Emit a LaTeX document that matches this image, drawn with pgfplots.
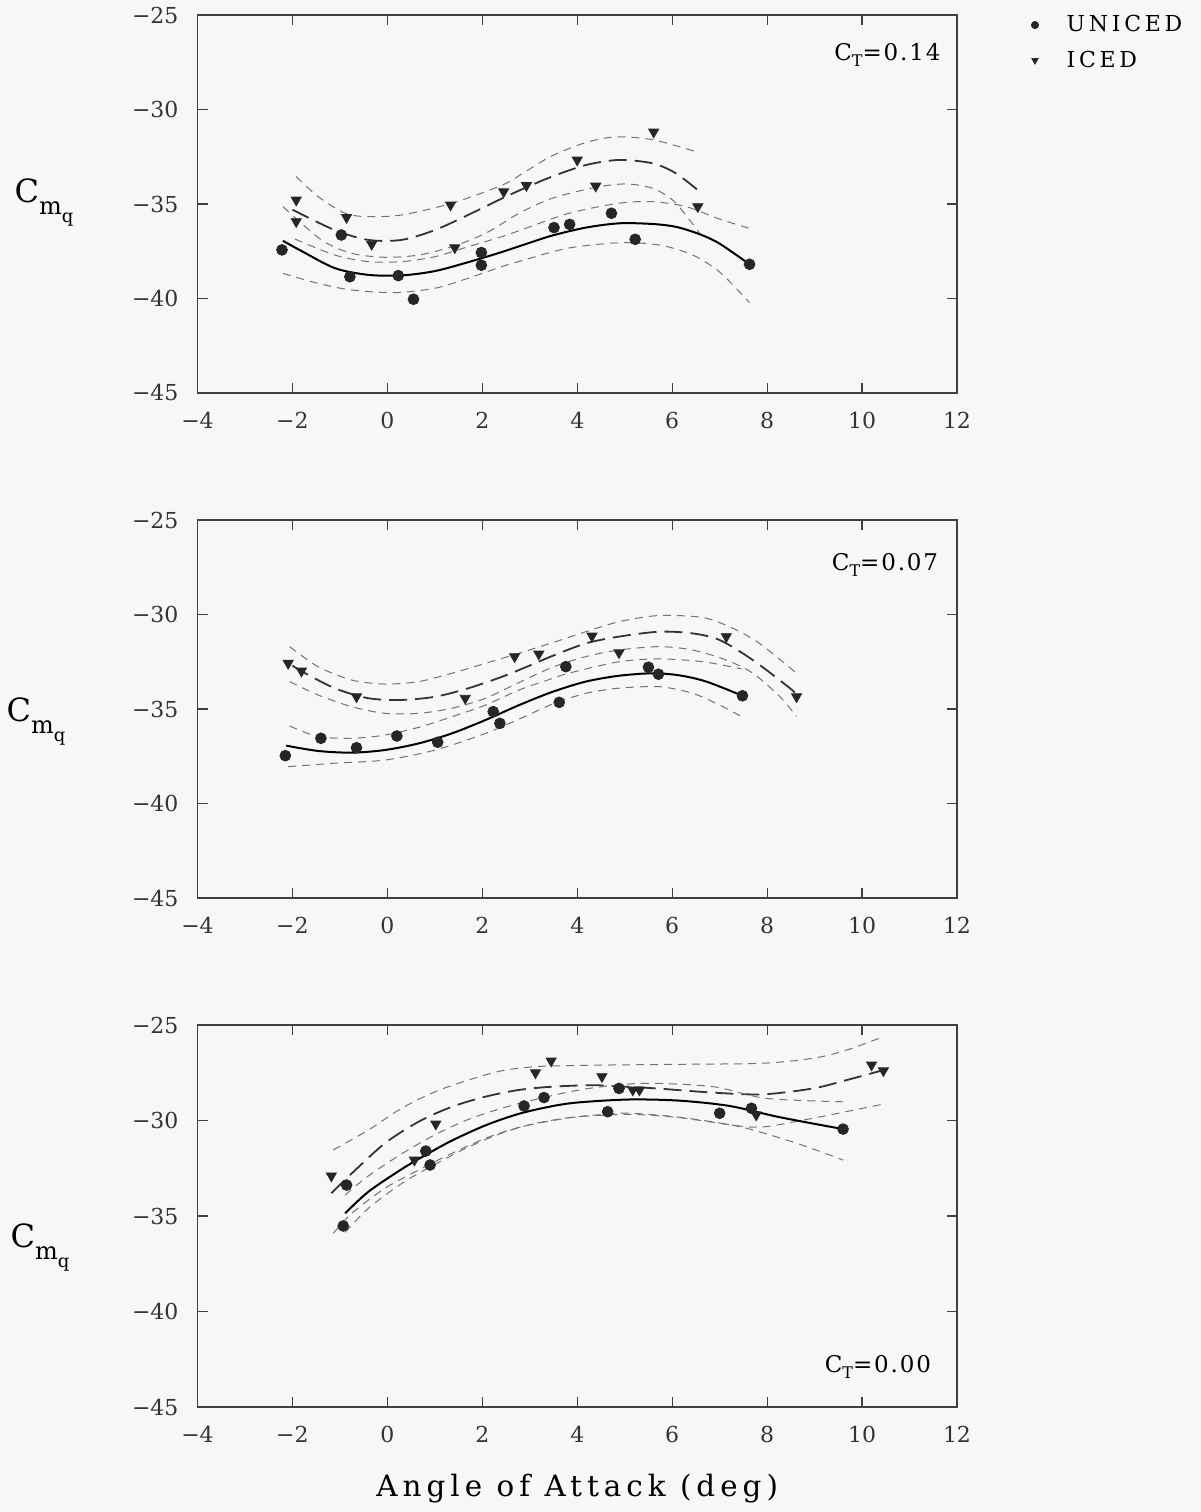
\documentclass[border=0pt]{standalone}
\usepackage{fontspec}
\setmainfont{DejaVu Serif}
\newfontfamily\wide{DejaVu Serif}[LetterSpace=17]
\newfontfamily\semiwide{DejaVu Serif}[LetterSpace=8]
\usepackage{pgfplots}
\pgfplotsset{compat=1.18}
\pgfplotsset{
  panel/.style={
    scale only axis, width=379.75pt,
    xmin=-4, xmax=12, ymin=-45, ymax=-25,
    xtick={-4,-2,...,12}, ytick={-45,-40,...,-25},
    xticklabels={−4,−2,0,2,4,6,8,10,12},
    yticklabels={−45,−40,−35,−30,−25},
    tick align=inside, major tick length=5pt,
    tick style={black!75, line width=0.6pt},
    axis line style={black!75, line width=0.7pt},
    ticklabel style={font=\fontsize{11}{11}\selectfont, text=black!80},
    xticklabel style={yshift=-6pt},
    yticklabel style={xshift=-6pt},
    clip=false, anchor=south west,
  },
  ufit/.style={black, line width=1.0pt, smooth, no marks, forget plot},
  ifit/.style={black!80, line width=0.9pt, dash pattern=on 9pt off 4pt, smooth, no marks, forget plot},
  band/.style={black!55, line width=0.5pt, dash pattern=on 4pt off 3pt, smooth, no marks, forget plot},
  umark/.style={only marks, mark=*, mark size=2.7pt, black!85},
  imark/.style={only marks, mark=triangle*, mark size=2.9pt, mark options={rotate=180}, black!85},
}
\newcommand{\cmq}{{\wide\fontsize{16}{16}\selectfont C}\raisebox{-6pt}{\wide\fontsize{12}{12}\selectfont m\raisebox{-4pt}{\fontsize{9}{9}\selectfont q}}}
\newcommand{\ct}[1]{{\semiwide\fontsize{11.5}{11.5}\selectfont C\raisebox{-3pt}{\fontsize{8}{8}\selectfont T}=#1}}
\begin{document}
\begin{tikzpicture}
\fill[black!3] (0,0) rectangle (600.5pt,756pt);
\path[use as bounding box] (0,0) rectangle (600.5pt,756pt);

% ---------------- top panel: CT = 0.14
\begin{axis}[panel, height=189pt, at={(98.75pt,559.5pt)},
  legend style={at={(rel axis cs:1,1)}, anchor=north west, xshift=34pt, yshift=4pt,
    draw=none, fill=none, font=\wide\fontsize{11}{11}\selectfont, row sep=4pt,
    /tikz/every odd column/.append style={column sep=12pt}},
  legend cell align=left,
  legend image code/.code={\draw[#1, mark size=1.8pt] plot coordinates {(0cm,0cm)};}]
\addplot[band] coordinates {(-1.92,-33.55) (-1.46,-34.61) (-0.89,-35.49) (-0.4,-35.67) (0.3,-35.58) (1.36,-34.96) (2.42,-34.0) (2.9,-33.3) (3.47,-32.45) (4.18,-31.75) (4.81,-31.45) (5.59,-31.6) (6.5,-32.23)};
\addplot[ifit] coordinates {(-2.0,-35.3) (-1.11,-36.38) (-0.4,-36.9) (0.3,-36.9) (1.0,-36.38) (1.7,-35.58) (2.42,-34.7) (2.9,-34.15) (3.47,-33.55) (4.18,-32.94) (4.88,-32.67) (5.59,-32.85) (6.08,-33.38) (6.58,-34.35)};
\addplot[band] coordinates {(-2.2,-35.14) (-1.39,-36.9) (-0.75,-37.61) (-0.05,-37.82) (0.66,-37.7) (1.36,-37.26) (2.07,-36.55) (2.77,-35.5) (3.47,-34.7) (4.39,-34.12) (5.03,-33.94) (5.59,-34.17) (6.01,-34.79) (6.29,-35.6) (6.58,-36.55)};
\addplot[band] coordinates {(-1.95,-36.85) (-1.11,-37.7) (-0.4,-38.05) (0.3,-38.05) (1.0,-37.79) (1.7,-37.26) (2.42,-36.72) (2.9,-36.3) (3.83,-35.49) (4.88,-34.96) (5.59,-34.88) (6.29,-35.14) (7.0,-35.8) (7.63,-36.29)};
\addplot[ufit] coordinates {(-2.2,-36.95) (-1.8,-37.5) (-1.1,-38.4) (-0.4,-38.75) (0.3,-38.78) (1.0,-38.55) (1.7,-38.08) (2.4,-37.55) (3.0,-37.05) (3.5,-36.65) (4.2,-36.24) (4.9,-36.02) (5.6,-36.06) (6.1,-36.22) (6.6,-36.62) (7.0,-37.1) (7.63,-38.19)};
\addplot[band] coordinates {(-2.2,-38.67) (-1.46,-39.2) (-0.75,-39.55) (0.16,-39.69) (1.0,-39.46) (1.7,-38.93) (2.4,-38.32) (2.9,-37.95) (3.8,-37.34) (4.88,-37.05) (5.73,-37.17) (6.43,-37.7) (7.0,-38.6) (7.63,-40.22)};
\addplot[umark] coordinates {(-2.22,-37.43) (-0.97,-36.64) (-0.79,-38.85) (0.23,-38.79) (0.55,-40.04) (1.98,-37.57) (1.98,-38.24) (3.51,-36.25) (3.84,-36.08) (4.72,-35.49) (5.22,-36.87) (7.63,-38.19)};
\addlegendentry{UNICED}
\addplot[imark] coordinates {(-1.92,-34.79) (-1.92,-35.93) (-0.86,-35.71) (-0.33,-37.13) (1.33,-35.05) (1.42,-37.31) (2.45,-34.35) (2.93,-34.02) (4.0,-32.67) (4.39,-34.05) (5.61,-31.19) (6.54,-35.14)};
\addlegendentry{ICED}
\node[anchor=east] at (axis cs:11.8,-27.1) {\ct{0.14}};
\node[anchor=west, xshift=-95pt, yshift=-4pt] at (rel axis cs:0,0.524) {\cmq};
\end{axis}

% ---------------- middle panel: CT = 0.07
\begin{axis}[panel, height=189pt, at={(98.75pt,307pt)}]
\addplot[band] coordinates {(-2.06,-31.7) (-1.46,-32.76) (-0.75,-33.47) (-0.05,-33.68) (0.66,-33.55) (1.36,-33.11) (2.07,-32.58) (2.77,-32.05) (3.47,-31.5) (4.18,-30.91) (4.88,-30.38) (5.59,-30.08) (6.15,-30.06) (6.72,-30.2) (7.28,-30.73) (7.84,-31.53) (8.62,-33.11)};
\addplot[ifit] coordinates {(-2.0,-32.7) (-1.81,-33.0) (-1.11,-33.9) (-0.4,-34.43) (0.3,-34.52) (1.01,-34.35) (1.71,-33.9) (2.42,-33.29) (3.0,-32.7) (3.47,-32.2) (4.18,-31.53) (4.88,-31.17) (5.73,-30.91) (6.43,-31.0) (7.0,-31.35) (7.7,-32.41) (8.48,-33.9) (8.6,-34.2)};
\addplot[band] coordinates {(-2.06,-33.55) (-1.46,-34.26) (-0.75,-34.88) (-0.05,-35.23) (0.66,-35.23) (1.36,-34.96) (2.07,-34.43) (2.77,-33.6) (3.47,-32.8) (4.18,-32.23) (4.88,-31.88) (5.73,-31.7) (6.43,-31.88) (7.14,-32.41) (7.7,-33.11) (8.27,-34.35) (8.62,-35.4)};
\addplot[band] coordinates {(-2.06,-35.9) (-1.46,-36.46) (-0.75,-36.55) (-0.05,-36.38) (0.66,-35.97) (1.36,-35.41) (2.07,-34.79) (2.77,-34.0) (3.4,-33.45) (3.83,-33.1) (4.88,-32.5) (5.73,-32.35) (6.65,-32.5) (7.46,-32.88)};
\addplot[ufit] coordinates {(-2.13,-36.94) (-1.46,-37.22) (-0.75,-37.31) (-0.05,-37.17) (0.66,-36.82) (1.36,-36.29) (2.07,-35.58) (2.77,-34.8) (3.47,-34.1) (4.18,-33.55) (4.88,-33.24) (5.59,-33.11) (6.15,-33.22) (6.72,-33.55) (7.48,-34.3)};
\addplot[band] coordinates {(-2.09,-38.05) (-1.11,-37.87) (-0.05,-37.7) (1.01,-37.17) (2.07,-36.29) (2.85,-35.45) (3.47,-34.75) (4.18,-34.17) (4.88,-33.9) (5.73,-33.82) (6.43,-34.17) (7.0,-34.79) (7.46,-35.4)};
\addplot[umark] coordinates {(-2.15,-37.47) (-1.4,-36.55) (-0.65,-37.05) (0.2,-36.43) (1.06,-36.76) (2.23,-35.14) (2.37,-35.76) (3.62,-34.65) (3.76,-32.76) (5.5,-32.79) (5.71,-33.16) (7.48,-34.3)};
\addplot[imark] coordinates {(-2.09,-32.58) (-1.81,-32.99) (-0.65,-34.35) (1.64,-34.43) (2.68,-32.23) (3.19,-32.09) (4.31,-31.14) (4.88,-32.02) (7.14,-31.17) (8.62,-34.35)};
\node[anchor=east] at (axis cs:11.75,-27.4) {\ct{0.07}};
\node[anchor=west, xshift=-99pt, yshift=-7pt] at (rel axis cs:0,0.505) {\cmq};
\end{axis}

% ---------------- bottom panel: CT = 0.00
\begin{axis}[panel, height=191pt, at={(98.75pt,52.5pt)}]
\addplot[band] coordinates {(-1.14,-31.54) (-0.4,-30.5) (0.3,-29.36) (1.01,-28.49) (1.71,-27.88) (2.42,-27.39) (3.12,-27.18) (3.83,-27.13) (4.46,-27.1) (6.15,-27.06) (7.91,-27.0) (8.97,-26.74) (9.68,-26.31) (10.45,-25.61)};
\addplot[ifit] coordinates {(-1.18,-33.81) (-0.75,-32.77) (-0.05,-31.19) (0.66,-30.06) (1.36,-29.28) (2.07,-28.75) (2.77,-28.4) (3.47,-28.23) (4.3,-28.15) (4.74,-28.2) (5.66,-28.32) (6.86,-28.54) (7.91,-28.63) (8.97,-28.32) (9.68,-27.88) (10.45,-27.36)};
\addplot[band] coordinates {(-1.14,-35.91) (-0.75,-34.86) (-0.05,-33.55) (0.66,-32.59) (1.36,-31.72) (2.07,-30.93) (2.77,-30.36) (3.47,-30.01) (4.04,-29.8) (5.1,-29.68) (6.15,-29.85) (7.42,-30.29) (7.98,-30.32) (8.97,-29.88) (10.45,-29.14)};
\addplot[band] coordinates {(-0.89,-33.9) (-0.4,-32.9) (0.3,-31.75) (1.0,-30.75) (1.7,-29.95) (2.42,-29.35) (3.12,-28.9) (3.83,-28.5) (4.46,-28.25) (5.45,-28.05) (6.86,-28.23) (7.98,-28.84) (9.6,-29.02)};
\addplot[ufit] coordinates {(-0.89,-34.86) (-0.4,-33.73) (0.3,-32.55) (0.81,-31.8) (1.36,-31.05) (2.07,-30.25) (2.77,-29.65) (3.47,-29.25) (4.04,-29.05) (5.1,-28.9) (6.15,-28.96) (7.21,-29.24) (8.27,-29.83) (9.6,-30.45)};
\addplot[band] coordinates {(-0.89,-35.85) (-0.4,-34.6) (0.3,-33.3) (1.0,-32.3) (1.7,-31.4) (2.42,-30.65) (3.12,-30.15) (3.83,-29.85) (4.46,-29.7) (5.1,-29.62) (6.15,-29.83) (7.42,-30.32) (8.62,-31.19) (9.6,-32.07)};
\addplot[umark] coordinates {(-0.93,-35.52) (-0.86,-33.38) (0.81,-31.6) (0.9,-32.33) (2.88,-29.24) (3.3,-28.8) (4.64,-29.54) (4.88,-28.32) (7.0,-29.62) (7.67,-29.36) (9.6,-30.45)};
\addplot[imark] coordinates {(-1.18,-32.9) (0.57,-32.07) (1.02,-30.18) (3.12,-27.5) (3.45,-26.88) (4.52,-27.7) (5.17,-28.4) (5.31,-28.4) (7.77,-29.71) (10.2,-27.09) (10.45,-27.39)};
\node[anchor=east] at (axis cs:11.6,-42.9) {\ct{0.00}};
\node[anchor=west, xshift=-97pt, yshift=-6pt] at (rel axis cs:0,0.448) {\cmq};
\node[anchor=center, yshift=-41pt] at (rel axis cs:0.5,0) {\wide\fontsize{14.7}{14.7}\selectfont Angle of Attack (deg)};
\end{axis}
\end{tikzpicture}
\end{document}
